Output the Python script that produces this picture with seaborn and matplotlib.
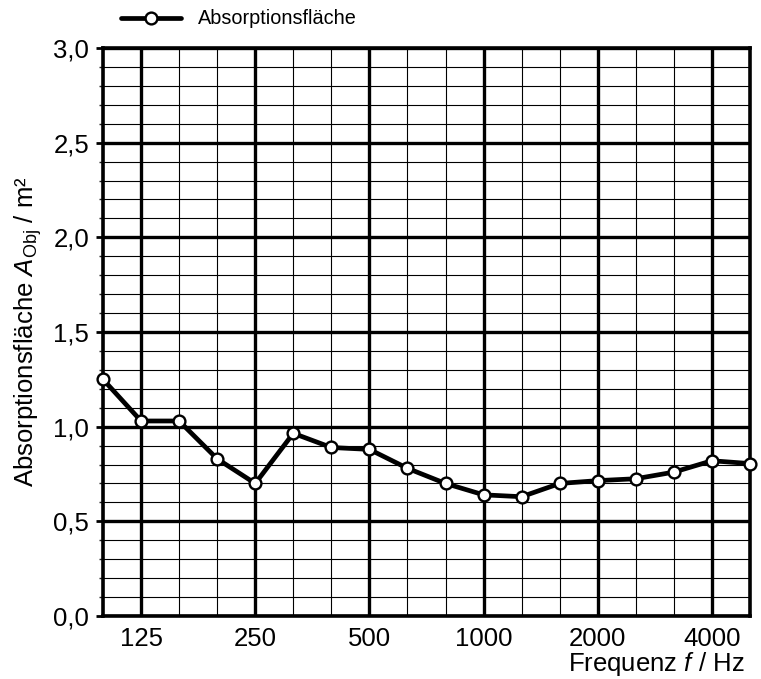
import matplotlib
matplotlib.use("Agg")
import matplotlib.pyplot as plt
import seaborn as sns
import pandas as pd
import numpy as np
from matplotlib.ticker import FixedLocator, MultipleLocator, FuncFormatter

# Data
bands = [100, 125, 160, 200, 250, 315, 400, 500, 630, 800, 1000, 1250,
         1600, 2000, 2500, 3150, 4000, 5000]
absorption = [1.25, 1.03, 1.03, 0.83, 0.70, 0.965, 0.89, 0.88, 0.78, 0.70,
              0.64, 0.63, 0.70, 0.715, 0.725, 0.76, 0.82, 0.805]
labeled_bands = [125, 250, 500, 1000, 2000, 4000]
series_name = "Absorptionsfläche"

sns.set_style("white")
plt.rcParams['font.family'] = ['Liberation Sans', 'DejaVu Sans']
plt.rcParams['mathtext.fontset'] = 'custom'
plt.rcParams['mathtext.rm'] = 'Liberation Sans'
plt.rcParams['mathtext.it'] = 'Liberation Sans:italic'
plt.rcParams['text.color'] = 'black'
plt.rcParams['axes.labelcolor'] = 'black'

df = pd.DataFrame({"idx": np.arange(len(bands)), "A": absorption, "band": bands})

fig = plt.figure(figsize=(7.61, 6.79), dpi=100)
ax = fig.add_axes([103/761, 1-616/679, (750-103)/761, (616-48)/679])

sns.lineplot(data=df, x="idx", y="A", ax=ax, color="black", lw=3.4,
             marker="o", markersize=8.5, markerfacecolor="white",
             markeredgecolor="black", markeredgewidth=1.7, clip_on=False,
             zorder=5, label=series_name, legend=False)

ax.set_xlim(0, len(bands) - 1)
ax.set_ylim(0, 3.0)

major_idx = [bands.index(b) for b in labeled_bands]
ax.xaxis.set_major_locator(FixedLocator(major_idx))
ax.xaxis.set_minor_locator(FixedLocator(list(range(len(bands)))))
ax.set_xticks(major_idx)
ax.set_xticklabels([str(b) for b in labeled_bands])
ax.yaxis.set_major_locator(MultipleLocator(0.5))
ax.yaxis.set_minor_locator(MultipleLocator(0.1))
ax.yaxis.set_major_formatter(FuncFormatter(lambda v, p: f"{v:.1f}".replace(".", ",")))

ax.grid(which="major", color="black", lw=2.4, zorder=1)
ax.grid(which="minor", color="black", lw=0.8, zorder=0)
ax.set_axisbelow(True)

for s in ax.spines.values():
    s.set_linewidth(2.6)
    s.set_color("black")

ax.tick_params(axis="x", which="both", length=0, pad=8, labelsize=18.5, colors="black")
ax.tick_params(axis="y", which="major", length=5, width=2, direction="out",
               pad=5, labelsize=18.5, colors="black", left=True)
ax.tick_params(axis="y", which="minor", length=3, width=1, direction="out", left=True)

ax.set_xlabel("")
ax.set_ylabel(r"Absorptionsfläche $\mathit{A}_{\mathrm{Obj}}$ / m²", fontsize=18.5,
              labelpad=7, color="black")
fig.text(745/761, 1-671/679, r"Frequenz $\mathit{f}$ / Hz", ha="right", va="baseline",
         fontsize=18.5, color="black")

h, l = ax.get_legend_handles_labels()
fig.legend(h, l, loc="center left", bbox_to_anchor=(121/761, 1-19/679),
           frameon=False, fontsize=14.3, handlelength=3.0, handletextpad=0.85,
           borderaxespad=0, borderpad=0, labelcolor="black")

fig.savefig("out.png", dpi=100)
